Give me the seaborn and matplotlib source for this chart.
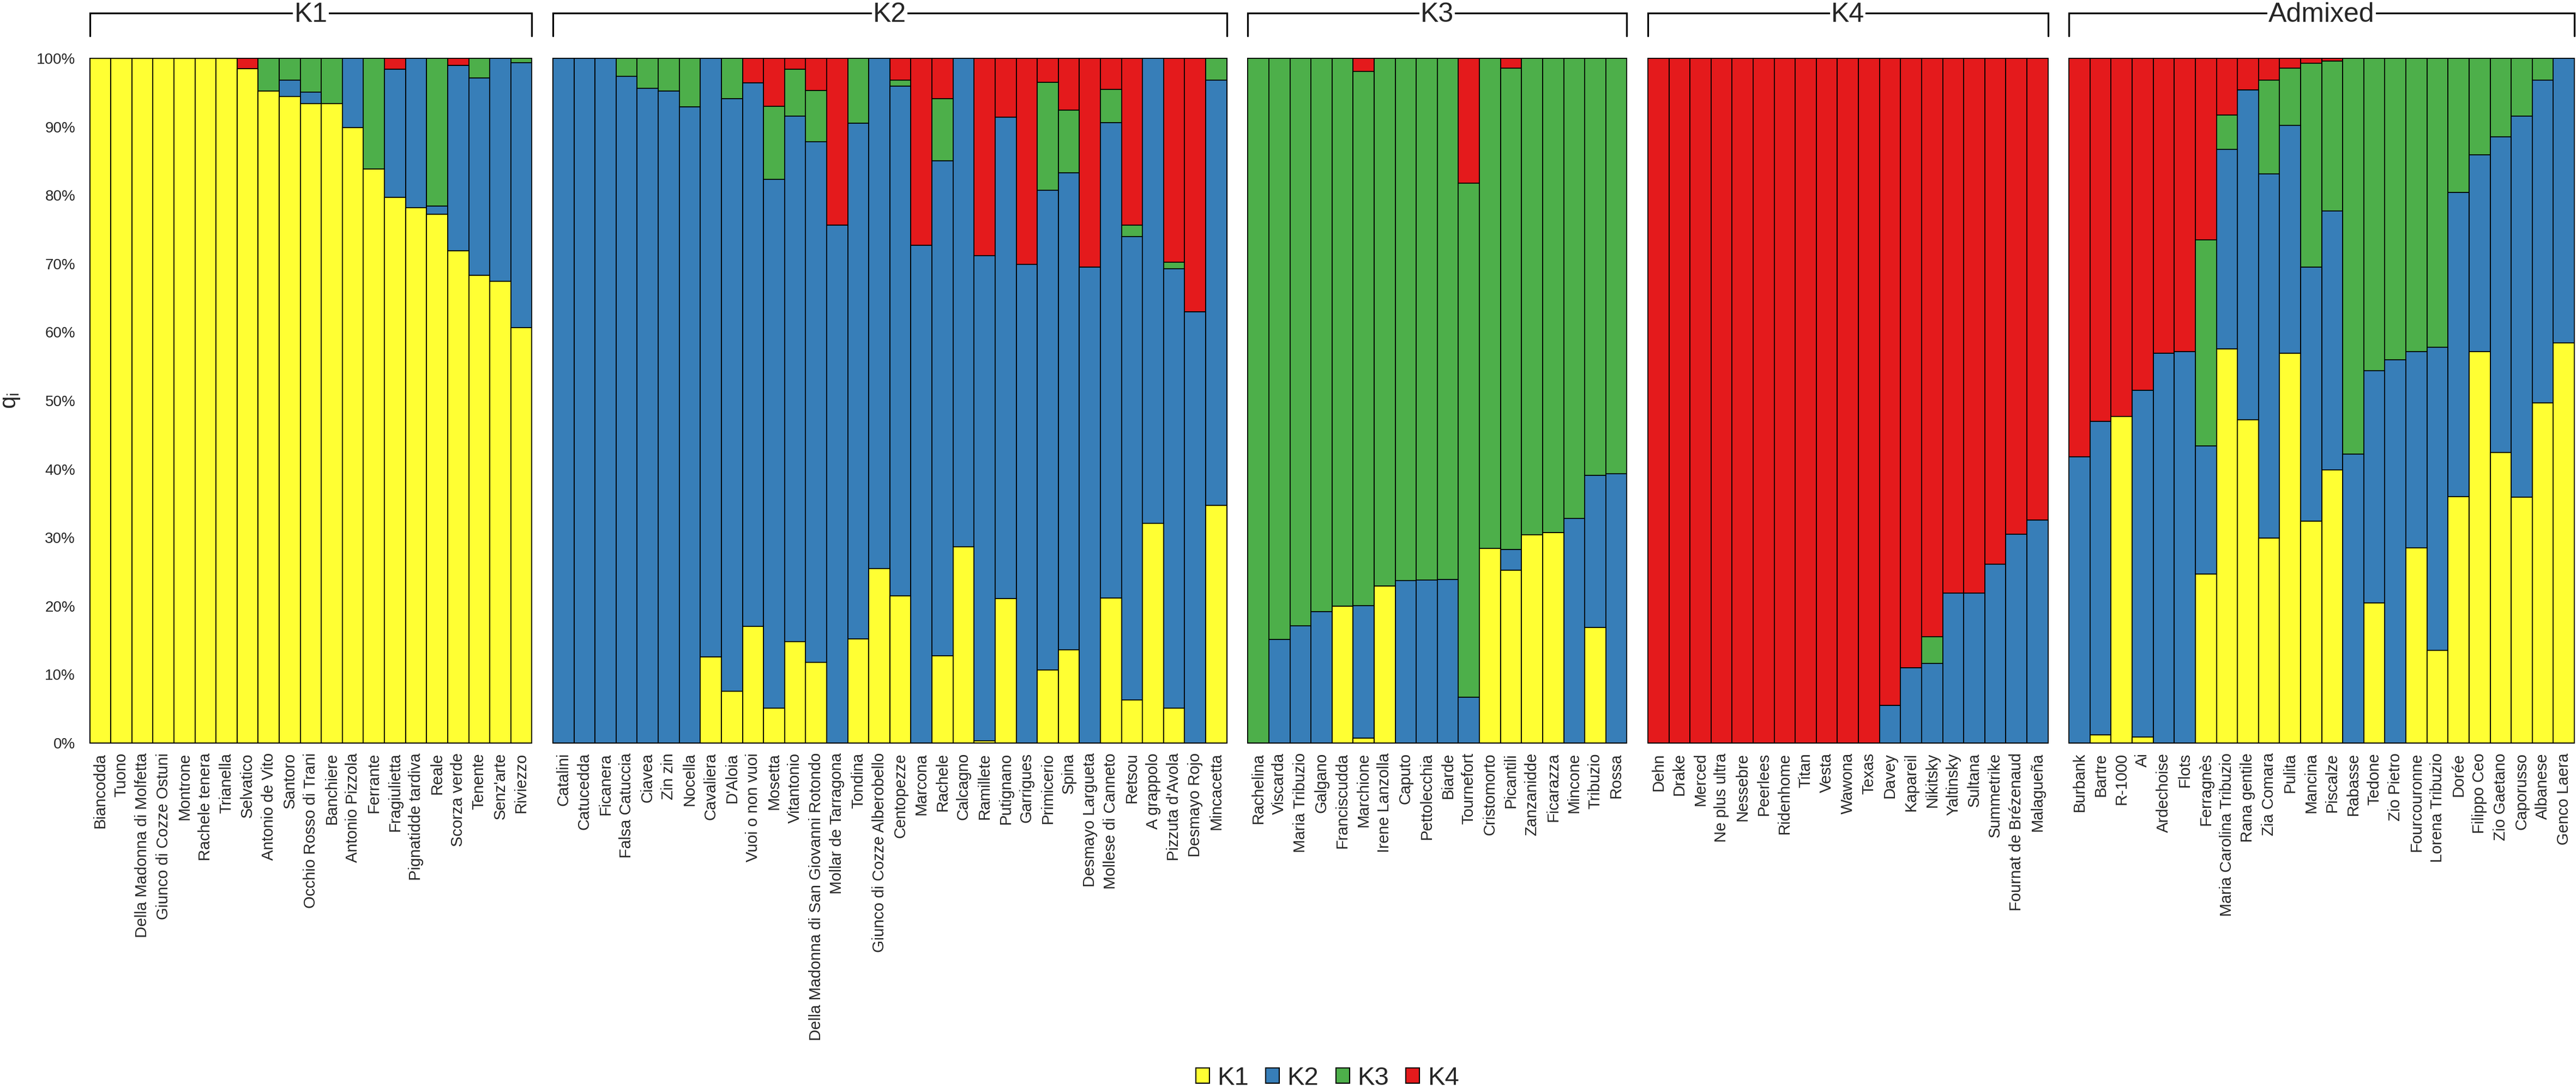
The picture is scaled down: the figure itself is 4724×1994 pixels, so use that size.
import matplotlib
matplotlib.use("Agg")
import numpy as np
import pandas as pd
import matplotlib.pyplot as plt
import seaborn as sns
from matplotlib.patches import Patch
from matplotlib.lines import Line2D
from matplotlib.transforms import blended_transform_factory
from matplotlib.ticker import FixedLocator, FuncFormatter

# ---------------- data (membership coefficients, %) ----------------
k1_names = ["Biancodda", "Tuono", "Della Madonna di Molfetta", "Giunco di Cozze Ostuni",
            "Montrone", "Rachele tenera", "Trianella", "Selvatico", "Antonio de Vito",
            "Santoro", "Occhio Rosso di Trani", "Banchiere", "Antonio Pizzola", "Ferrante",
            "Fragiulietta", "Pignatidde tardiva", "Reale", "Scorza verde", "Tenente",
            "Senz'arte", "Riviezzo"]
k1_q1 = [100, 100, 100, 100, 100, 100, 100, 98.5, 95.2, 94.4, 93.4, 93.4, 89.9, 83.8,
         79.7, 78.2, 77.2, 71.9, 68.3, 67.4, 60.7]
k1_q2 = [0, 0, 0, 0, 0, 0, 0, 0, 0, 2.4, 1.7, 0, 10.1, 0, 18.7, 21.8, 1.2, 27.1, 28.8, 32.6, 38.7]
k1_q3 = [0, 0, 0, 0, 0, 0, 0, 0, 4.8, 3.2, 4.9, 6.6, 0, 16.2, 0, 0, 21.6, 0, 2.9, 0, 0.6]
k1_q4 = [0, 0, 0, 0, 0, 0, 0, 1.5, 0, 0, 0, 0, 0, 0, 1.6, 0, 0, 1.0, 0, 0, 0]

k2_names = ["Catalini", "Catucedda", "Ficanera", "Falsa Catuccia", "Ciavea", "Zin zin",
            "Nocella", "Cavaliera", "D'Aloia", "Vuoi o non vuoi", "Mosetta", "Vitantonio",
            "Della Madonna di San Giovanni Rotondo", "Mollar de Tarragona", "Tondina",
            "Giunco di Cozze Alberobello", "Centopezze", "Marcona", "Rachele", "Calcagno",
            "Ramillete", "Putignano", "Garrigues", "Primicerio", "Spina", "Desmayo Largueta",
            "Mollese di Canneto", "Retsou", "A grappolo", "Pizzuta d'Avola", "Desmayo Rojo",
            "Mincacetta"]
k2_q1 = [0, 0, 0, 0, 0, 0, 0, 12.6, 7.6, 17.0, 5.1, 14.8, 11.8, 0, 15.2, 25.5, 21.5, 0,
         12.7, 28.7, 0.3, 21.1, 0, 10.7, 13.6, 0, 21.2, 6.3, 32.1, 5.1, 0, 34.7]
k2_q2 = [100, 100, 100, 97.4, 95.6, 95.2, 92.9, 87.4, 86.5, 79.4, 77.2, 76.8, 76.0, 75.6,
         75.3, 74.5, 74.4, 72.7, 72.3, 71.3, 70.9, 70.3, 69.9, 70.0, 69.7, 69.5, 69.4, 67.7,
         67.9, 64.2, 63.0, 62.1]
k2_q3 = [0, 0, 0, 2.6, 4.4, 4.8, 7.1, 0, 5.9, 0, 10.7, 6.8, 7.5, 0, 9.5, 0, 0.9, 0, 9.1, 0,
         0, 0, 0, 15.8, 9.1, 0, 4.9, 1.6, 0, 0.9, 0, 3.2]
k2_q4 = [0, 0, 0, 0, 0, 0, 0, 0, 0, 3.6, 7.0, 1.6, 4.7, 24.4, 0, 0, 3.2, 27.3, 5.9, 0,
         28.8, 8.6, 30.1, 3.5, 7.6, 30.5, 4.5, 24.4, 0, 29.8, 37.0, 0]

k3_names = ["Rachelina", "Viscarda", "Maria Tribuzio", "Galgano", "Franciscudda",
            "Marchione", "Irene Lanzolla", "Caputo", "Pettolecchia", "Biarde", "Tournefort",
            "Cristomorto", "Picantili", "Zanzanidde", "Ficarazza", "Mincone", "Tribuzio",
            "Rossa"]
k3_q1 = [0, 0, 0, 0, 20.0, 0.7, 22.9, 0, 0, 0, 0, 28.4, 25.2, 30.4, 30.7, 0, 16.9, 0]
k3_q2 = [0, 15.1, 17.1, 19.2, 0, 19.4, 0, 23.7, 23.8, 23.9, 6.7, 0, 3.1, 0, 0, 32.8, 22.2, 39.3]
k3_q3 = [100, 84.9, 82.9, 80.8, 80.0, 78.0, 77.1, 76.3, 76.2, 76.1, 75.1, 71.6, 70.3, 69.6,
         69.3, 67.2, 60.9, 60.7]
k3_q4 = [0, 0, 0, 0, 0, 1.9, 0, 0, 0, 0, 18.2, 0, 1.4, 0, 0, 0, 0, 0]

k4_names = ["Dehn", "Drake", "Merced", "Ne plus ultra", "Nessebre", "Peerlees", "Ridenhome",
            "Titan", "Vesta", "Wawona", "Texas", "Davey", "Kapareil", "Nikitsky", "Yaltinsky",
            "Sultana", "Summetrike", "Fournat de Brézenaud", "Malagueña"]
k4_q1 = [0] * 19
k4_q2 = [0, 0, 0, 0, 0, 0, 0, 0, 0, 0, 0, 5.5, 11.0, 11.6, 21.9, 21.9, 26.1, 30.5, 32.6]
k4_q3 = [0, 0, 0, 0, 0, 0, 0, 0, 0, 0, 0, 0, 0, 3.9, 0, 0, 0, 0, 0]
k4_q4 = [100, 100, 100, 100, 100, 100, 100, 100, 100, 100, 100, 94.5, 89.0, 84.5, 78.1,
         78.1, 73.9, 69.5, 67.4]

adm_names = ["Burbank", "Bartre", "R-1000", "Ai", "Ardechoise", "Flots", "Ferragnès",
             "Maria Carolina Tribuzio", "Rana gentile", "Zia Comara", "Pulita", "Mancina",
             "Piscalze", "Rabasse", "Tedone", "Zio Pietro", "Fourcouronne", "Lorena Tribuzio",
             "Dorée", "Filippo Ceo", "Zio Gaetano", "Caporusso", "Albanese", "Genco Laera"]
adm_q1 = [0, 1.2, 47.7, 0.9, 0, 0, 24.7, 57.6, 47.2, 29.9, 56.9, 32.4, 39.9, 0, 20.5, 0,
          28.5, 13.5, 36.0, 57.2, 42.4, 35.9, 49.7, 58.4]
adm_q2 = [41.8, 45.8, 0, 50.6, 56.9, 57.2, 18.7, 29.1, 48.2, 53.2, 33.3, 37.1, 37.8, 42.2,
          33.9, 56.0, 28.7, 44.3, 44.4, 28.7, 46.1, 55.7, 47.1, 41.6]
adm_q3 = [0, 0, 0, 0, 0, 0, 30.1, 5.0, 0, 13.7, 8.4, 29.8, 21.9, 57.8, 45.6, 44.0, 42.8,
          42.2, 19.6, 14.1, 11.5, 8.4, 3.2, 0]
adm_q4 = [58.2, 53.0, 52.3, 48.5, 43.1, 42.8, 26.5, 8.3, 4.6, 3.2, 1.4, 0.7, 0.4, 0, 0, 0,
          0, 0, 0, 0, 0, 0, 0, 0]

group_titles = ["K1", "K2", "K3", "K4", "Admixed"]
cluster_labels = ["K1", "K2", "K3", "K4"]
yticks = [0, 10, 20, 30, 40, 50, 60, 70, 80, 90, 100]

# ---------------- style ----------------
sns.set_style("white")
plt.rcParams["font.family"] = ["Liberation Sans", "DejaVu Sans"]
plt.rcParams["mathtext.default"] = "regular"

palette = {"K1": "#FFFF33", "K2": "#377EB8", "K3": "#4DAF4A", "K4": "#E41A1C"}

groups = [
    (group_titles[0], k1_names, k1_q1, k1_q2, k1_q3, k1_q4),
    (group_titles[1], k2_names, k2_q1, k2_q2, k2_q3, k2_q4),
    (group_titles[2], k3_names, k3_q1, k3_q2, k3_q3, k3_q4),
    (group_titles[3], k4_names, k4_q1, k4_q2, k4_q3, k4_q4),
    (group_titles[4], adm_names, adm_q1, adm_q2, adm_q3, adm_q4),
]

W, H = 4724, 1994
fig = plt.figure(figsize=(W / 100, H / 100), dpi=100)
n_total = sum(len(g[1]) for g in groups)
gs = fig.add_gridspec(1, len(groups), width_ratios=[len(g[1]) for g in groups],
                      left=164.5 / W, right=4721 / W, top=1 - 107 / H, bottom=1 - 1363 / H,
                      wspace=len(groups) / n_total)

axes = []
for i, (title, names, q1, q2, q3, q4) in enumerate(groups):
    ax = fig.add_subplot(gs[0, i])
    axes.append(ax)
    df = pd.DataFrame({"name": names, "K1": q1, "K2": q2, "K3": q3, "K4": q4})
    df["c1"] = df["K1"]
    df["c2"] = df["c1"] + df["K2"]
    df["c3"] = df["c2"] + df["K3"]
    df["c4"] = (df["c3"] + df["K4"]).clip(upper=100)
    for col, k in [("c4", "K4"), ("c3", "K3"), ("c2", "K2"), ("c1", "K1")]:
        sns.barplot(data=df, x="name", y=col, order=names, color=palette[k], saturation=1,
                    width=1, edgecolor="black", linewidth=1.3, errorbar=None, ax=ax,
                    clip_on=False)
    ax.set_ylim(0, 100)
    ax.set_xlim(-0.5, len(names) - 0.5)
    ax.set_xlabel("")
    ax.set_ylabel("")
    for s in ax.spines.values():
        s.set_visible(False)
    ax.tick_params(axis="x", length=0, pad=13, labelsize=21, labelrotation=90)
    ax.yaxis.set_major_locator(FixedLocator(yticks))
    if i == 0:
        ax.yaxis.set_major_formatter(FuncFormatter(lambda v, p: f"{int(v)}%"))
        ax.tick_params(axis="y", length=0, pad=19, labelsize=20)
    else:
        ax.tick_params(axis="y", length=0, labelleft=False)
    ax.grid(False)

    # group bracket on top
    tr = blended_transform_factory(ax.transAxes, fig.transFigure)
    y_line = 1 - 24 / H
    y_end = 1 - 66 / H
    ax.add_line(Line2D([0, 0, 1, 1], [y_end, y_line, y_line, y_end], transform=tr,
                       color="black", lw=2.3, clip_on=False, solid_joinstyle="miter"))
    ax.text(0.5, 1 - 40 / H, title, transform=tr, ha="center", va="baseline", fontsize=36,
            bbox=dict(facecolor="white", edgecolor="none", pad=1.5), clip_on=False)

# y label
fig.text(20 / W, 1 - 735 / H, "$q_i$", rotation=90, ha="center", va="center", fontsize=30)

# legend
handles = [Patch(facecolor=palette[k], edgecolor="black", linewidth=1.5) for k in cluster_labels]
fig.legend(handles, cluster_labels, loc="lower center", bbox_to_anchor=(2434 / W, -0.003),
           ncol=4, frameon=False, fontsize=34, handlelength=0.53, handleheight=0.53,
           handletextpad=0.3, columnspacing=0.67, borderpad=0, borderaxespad=0)

fig.savefig("out.png", dpi=100)
